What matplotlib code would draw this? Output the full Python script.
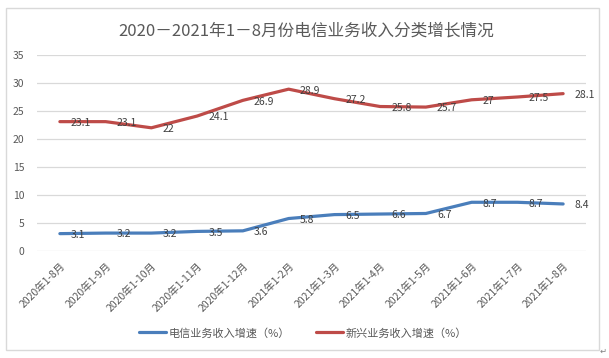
import matplotlib
matplotlib.use("Agg")
import matplotlib.pyplot as plt
from matplotlib.patches import Rectangle

plt.rcParams['font.family'] = ['Noto Sans CJK SC', 'DejaVu Sans']

categories = ["2020年1-8月", "2020年1-9月", "2020年1-10月", "2020年1-11月", "2020年1-12月",
              "2021年1-2月", "2021年1-3月", "2021年1-4月", "2021年1-5月", "2021年1-6月",
              "2021年1-7月", "2021年1-8月"]
telecom = [3.1, 3.2, 3.2, 3.5, 3.6, 5.8, 6.5, 6.6, 6.7, 8.7, 8.7, 8.4]
emerging = [23.1, 23.1, 22, 24.1, 26.9, 28.9, 27.2, 25.8, 25.7, 27, 27.5, 28.1]
telecom_labels = ["3.1", "3.2", "3.2", "3.5", "3.6", "5.8", "6.5", "6.6", "6.7", "8.7", "8.7", "8.4"]
emerging_labels = ["23.1", "23.1", "22", "24.1", "26.9", "28.9", "27.2", "25.8", "25.7", "27", "27.5", "28.1"]
series_names = ["电信业务收入增速（%）", "新兴业务收入增速（%）"]
title = "2020－2021年1－8月份电信业务收入分类增长情况"
yticks = [0, 5, 10, 15, 20, 25, 30, 35]

W, H = 609, 358
fig = plt.figure(figsize=(W / 100, H / 100), dpi=100)
fig.patch.set_facecolor("white")

ax = fig.add_axes([37 / W, (H - 251) / H, (586 - 37) / W, (251 - 55) / H])
x = list(range(len(categories)))

blue = "#4A7EBB"
red = "#BE4B48"
ax.plot(x, telecom, color=blue, lw=2.3, solid_joinstyle="round", solid_capstyle="round",
        label=series_names[0], zorder=3)
ax.plot(x, emerging, color=red, lw=2.3, solid_joinstyle="round", solid_capstyle="round",
        label=series_names[1], zorder=3)

for xi, v, s in zip(x, telecom, telecom_labels):
    ax.annotate(s, (xi, v), xytext=(8, -1), textcoords="offset points",
                ha="left", va="center", fontsize=7.5, color="#404040", zorder=4)
for xi, v, s in zip(x, emerging, emerging_labels):
    ax.annotate(s, (xi, v), xytext=(8, -1), textcoords="offset points",
                ha="left", va="center", fontsize=7.5, color="#404040", zorder=4)

ax.set_xlim(-0.5, len(categories) - 0.5)
ax.set_ylim(0, 35)
ax.set_yticks(yticks)
ax.set_yticklabels([str(t) for t in yticks], fontsize=7.5, color="#595959")
ax.set_xticks(x)
ax.set_xticklabels(categories, fontsize=7.5, color="#595959", rotation=45,
                   ha="right", va="top", rotation_mode="anchor")
ax.tick_params(axis="both", length=0)
ax.tick_params(axis="y", pad=9)
ax.tick_params(axis="x", pad=7)
ax.grid(axis="y", color="#D9D9D9", lw=0.9)
ax.set_axisbelow(True)
for sp in ax.spines.values():
    sp.set_visible(False)

fig.text(306 / W, (H - 31) / H, title, ha="center", va="center", fontsize=12, color="#595959")

leg = fig.legend(loc="center", bbox_to_anchor=(303 / W, (H - 333) / H), ncol=2, frameon=False,
                 fontsize=8, handlelength=2.4, handletextpad=0.2, columnspacing=2.4)
for t in leg.get_texts():
    t.set_color("#595959")

fig.patches.append(Rectangle((5.5 / W, (H - 349.5) / H), 593.5 / W, 342 / H,
                             transform=fig.transFigure, fill=False, edgecolor="#D9D9D9", lw=1))
fig.text(600 / W, (H - 351) / H, "↵", ha="left", va="center", fontsize=6, color="#808080",
         family=["DejaVu Sans"])

fig.savefig("out.png", dpi=100)
